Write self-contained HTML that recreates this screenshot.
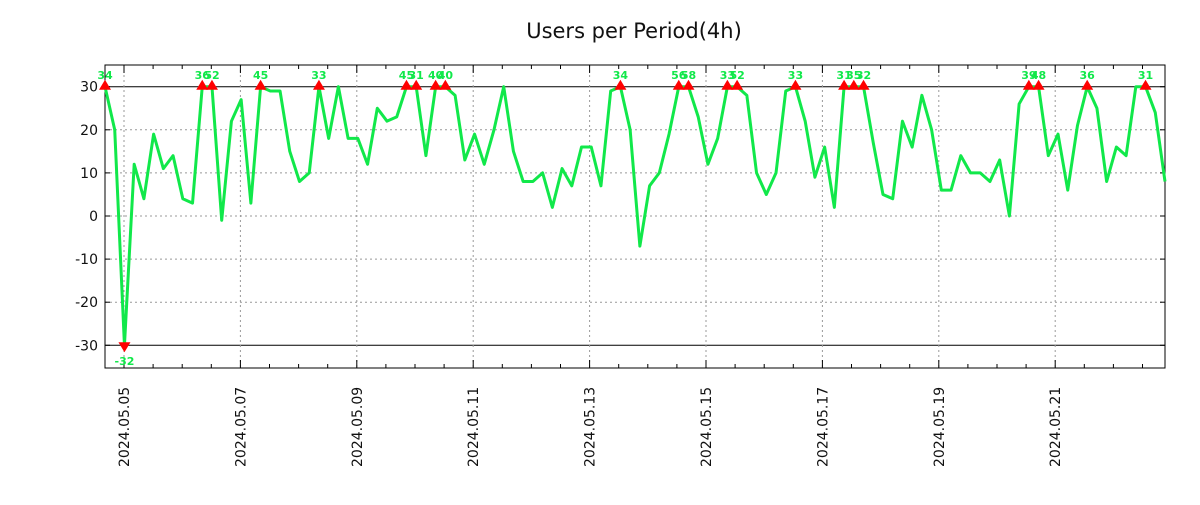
<!DOCTYPE html>
<html><head><meta charset="utf-8"><style>
body{margin:0;background:#fff;}
svg text{font-family:"DejaVu Sans","Liberation Sans",sans-serif;}
</style></head><body>
<svg id="chart" width="1200" height="500" xmlns="http://www.w3.org/2000/svg">
<rect width="1200" height="500" fill="#fff"/>
<text x="634" y="38" font-size="21" text-anchor="middle" fill="#111">Users per Period(4h)</text>
<g id="grid"></g>
<g id="axes"></g>
<g id="series"></g>
<g id="marks"></g>
</svg>
<script>
const values=[34,20,-32,12,4,19,11,14,4,3,36,52,-1,22,27,3,45,29,29,15,8,10,33,18,30,18,18,12,25,22,23,45,31,14,40,40,28,13,19,12,20,30,15,8,8,10,2,11,7,16,16,7,29,34,20,-7,7,10,19,56,58,23,12,18,33,52,28,10,5,10,29,33,22,9,16,2,31,35,32,17,5,4,22,16,28,20,6,6,14,10,10,8,13,0,26,39,48,14,19,6,21,36,25,8,16,14,30,31,24,8];
const yTicks=[30,20,10,0,-10,-20,-30];
const xTickLabels=["2024.05.05","2024.05.07","2024.05.09","2024.05.11","2024.05.13","2024.05.15","2024.05.17","2024.05.19","2024.05.21"];
const NS="http://www.w3.org/2000/svg";
const L=105,R=1165,T=65,B=368,clipHi=30,clipLo=-30;
const y=v=>216-(v)*4.31;
const x=i=>L+i*(R-L)/(values.length-1);
const dayX=d=>124+d*58.2;
function el(tag,attrs,parent){const e=document.createElementNS(NS,tag);for(const k in attrs)e.setAttribute(k,attrs[k]);parent.appendChild(e);return e;}
const grid=document.getElementById('grid'),axes=document.getElementById('axes'),series=document.getElementById('series'),marks=document.getElementById('marks');
yTicks.forEach(v=>{
  const solid=(v===clipHi||v===clipLo);
  const g=el('line',{x1:L,x2:R,y1:y(v),y2:y(v),stroke:solid?'#000':'#999','stroke-dasharray':solid?'':'2,3','stroke-width':1},grid);
  
  
  const t=el('text',{x:98,y:y(v)+5,'font-size':14,'text-anchor':'end',fill:'#111'},axes);
  
  
  t.textContent=v;
  el('line',{x1:L,x2:L+5,y1:y(v),y2:y(v),stroke:'#000'},axes);
  el('line',{x1:R,x2:R-5,y1:y(v),y2:y(v),stroke:'#000'},axes);
});
xTickLabels.forEach((lab,k)=>{
  const xx=dayX(k*2);
  const g=el('line',{x1:xx,x2:xx,y1:T,y2:B,stroke:'#999','stroke-dasharray':'2,3'},grid);
  
  
  const t=el('text',{transform:`translate(${xx+5},467) rotate(-90)`,'font-size':14,fill:'#111'},axes);
  
  
  t.textContent=lab;
});
for(let h=-1;h<37;h++){const xx=124+h*29.1;if(xx<L||xx>R)continue;const len=(h%4===0)?8:4;
  el('line',{x1:xx,x2:xx,y1:B,y2:B-len,stroke:'#000'},axes);el('line',{x1:xx,x2:xx,y1:T,y2:T+len,stroke:'#000'},axes);}
const frame=el('rect',{x:L,y:T,width:R-L,height:B-T,fill:'none',stroke:'#000','stroke-width':1},axes);


const clip=v=>Math.max(clipLo,Math.min(clipHi,v));
const line=el('polyline',{points:values.map((v,i)=>x(i)+','+y(clip(v))).join(' '),fill:'none',stroke:'#11e84a','stroke-width':3,'stroke-linejoin':'round'},series);


values.forEach((v,i)=>{
  if(v>clipHi){
    const xx=x(i),yy=y(clipHi);
    const m=el('polygon',{points:`${xx-6},${yy+3} ${xx+6},${yy+3} ${xx},${yy-7}`,fill:'#f00'},marks);
    
    
    const t=el('text',{x:xx,y:79,'font-size':11,'font-weight':'bold','text-anchor':'middle',fill:'#11e84a'},marks);
    
    
    t.textContent=v;
  } else if(v<clipLo){
    const xx=x(i),yy=y(clipLo);
    const m=el('polygon',{points:`${xx-6},${yy-3} ${xx+6},${yy-3} ${xx},${yy+7}`,fill:'#f00'},marks);
    
    
    const t=el('text',{x:xx,y:365,'font-size':11,'font-weight':'bold','text-anchor':'middle',fill:'#11e84a'},marks);
    
    
    t.textContent=v;
  }
});
</script>
</body></html>
